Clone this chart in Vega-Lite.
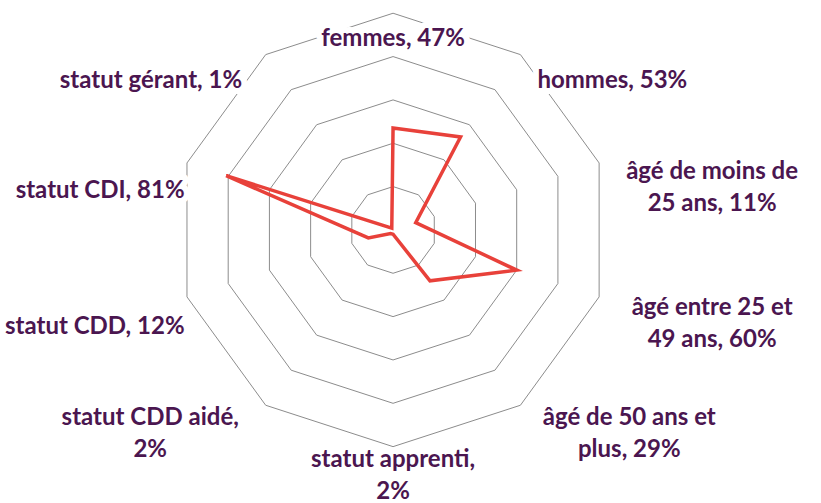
{
  "$schema": "https://vega.github.io/schema/vega-lite/v6.json",
  "width": 821,
  "height": 503,
  "autosize": {"type": "none"},
  "padding": 0,
  "background": "white",
  "config": {"view": {"stroke": null}},
  "data": {"values": [
    {"cat": "femmes, 47%", "v": 47},
    {"cat": "hommes, 53%", "v": 53},
    {"cat": "âgé de moins de\n25 ans, 11%", "v": 11},
    {"cat": "âgé entre 25 et\n49 ans, 60%", "v": 60},
    {"cat": "âgé de 50 ans et\nplus, 29%", "v": 29},
    {"cat": "statut apprenti,\n2%", "v": 2},
    {"cat": "statut CDD aidé,\n2%", "v": 2},
    {"cat": "statut CDD, 12%", "v": 12},
    {"cat": "statut CDI, 81%", "v": 81},
    {"cat": "statut gérant, 1%", "v": 1}
  ]},
  "transform": [
    {"window": [{"op": "row_number", "as": "rn"}]},
    {"calculate": "(datum.rn - 1) * PI / 5", "as": "t"},
    {"calculate": "abs(sin(datum.t)) < 0.1 ? 0 : (sin(datum.t) > 0 ? 1 : -1)", "as": "side"},
    {"calculate": "indexof(datum.cat, '\\n')", "as": "nl"},
    {"calculate": "datum.nl >= 0 ? max(datum.nl, length(datum.cat) - datum.nl - 1) : length(datum.cat)", "as": "ml"},
    {"calculate": "datum.side > 0 ? 112.5 * abs(sin(datum.t)) + 0.5 : 73.1 * abs(sin(datum.t)) + 26.7", "as": "edge"},
    {"calculate": "datum.side * (datum.edge + (datum.nl >= 0 ? datum.ml * 5.3 / 2 : 0))", "as": "lx"},
    {"calculate": "101.5 * cos(datum.t)", "as": "ly"}
  ],
  "layer": [
    {
      "transform": [
        {"calculate": "[20, 40, 60, 80, 100]", "as": "lv"},
        {"flatten": ["lv"]},
        {"calculate": "datum.lv * sin(datum.t)", "as": "gx"},
        {"calculate": "datum.lv * cos(datum.t)", "as": "gy"}
      ],
      "mark": {"type": "line", "interpolate": "linear-closed", "stroke": "#8c8c8c", "strokeWidth": 1},
      "encoding": {
        "x": {"field": "gx", "type": "quantitative", "scale": {"domain": [-181.4, 197.5], "nice": false, "zero": false}, "axis": null},
        "y": {"field": "gy", "type": "quantitative", "scale": {"domain": [-126.0, 106.1], "nice": false, "zero": false}, "axis": null},
        "detail": {"field": "lv", "type": "nominal"},
        "order": {"field": "rn", "type": "quantitative"}
      }
    },
    {
      "mark": {"type": "text", "font": "Lato", "fontWeight": "bold", "fontSize": 24, "lineBreak": "\n", "lineHeight": 32, "baseline": "middle",
        "dy": {"expr": "datum.nl >= 0 ? 10 : 29"},
        "align": {"expr": "(datum.side == 0 || datum.nl >= 0) ? 'center' : (datum.side > 0 ? 'left' : 'right')"},
        "color": "white", "stroke": "white", "strokeWidth": 12, "strokeJoin": "round"},
      "encoding": {
        "x": {"field": "lx", "type": "quantitative"},
        "y": {"field": "ly", "type": "quantitative"},
        "text": {"field": "cat", "type": "nominal"}
      }
    },
    {
      "transform": [
        {"calculate": "datum.v * sin(datum.t)", "as": "px"},
        {"calculate": "datum.v * cos(datum.t)", "as": "py"}
      ],
      "mark": {"type": "line", "interpolate": "linear-closed", "stroke": "#e8413a", "strokeWidth": 3.5, "strokeJoin": "miter"},
      "encoding": {
        "x": {"field": "px", "type": "quantitative"},
        "y": {"field": "py", "type": "quantitative"},
        "order": {"field": "rn", "type": "quantitative"}
      }
    },
    {
      "mark": {"type": "text", "font": "Lato", "fontWeight": "bold", "fontSize": 24, "lineBreak": "\n", "lineHeight": 32, "baseline": "middle",
        "dy": {"expr": "datum.nl >= 0 ? 10 : 29"},
        "align": {"expr": "(datum.side == 0 || datum.nl >= 0) ? 'center' : (datum.side > 0 ? 'left' : 'right')"},
        "color": "#4b1650"},
      "encoding": {
        "x": {"field": "lx", "type": "quantitative"},
        "y": {"field": "ly", "type": "quantitative"},
        "text": {"field": "cat", "type": "nominal"}
      }
    }
  ]
}
